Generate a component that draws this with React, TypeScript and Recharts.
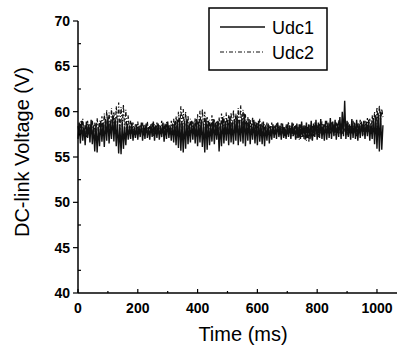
import { LineChart, Line, XAxis, YAxis, Label } from 'recharts';

// sample times (ms), 4 ms apart
const time = [
  0, 4, 8, 12, 16, 20, 24, 28, 32, 36, 40, 44, 48, 52, 56, 60,
  64, 68, 72, 76, 80, 84, 88, 92, 96, 100, 104, 108, 112, 116, 120, 124,
  128, 132, 136, 140, 144, 148, 152, 156, 160, 164, 168, 172, 176, 180, 184, 188,
  192, 196, 200, 204, 208, 212, 216, 220, 224, 228, 232, 236, 240, 244, 248, 252,
  256, 260, 264, 268, 272, 276, 280, 284, 288, 292, 296, 300, 304, 308, 312, 316,
  320, 324, 328, 332, 336, 340, 344, 348, 352, 356, 360, 364, 368, 372, 376, 380,
  384, 388, 392, 396, 400, 404, 408, 412, 416, 420, 424, 428, 432, 436, 440, 444,
  448, 452, 456, 460, 464, 468, 472, 476, 480, 484, 488, 492, 496, 500, 504, 508,
  512, 516, 520, 524, 528, 532, 536, 540, 544, 548, 552, 556, 560, 564, 568, 572,
  576, 580, 584, 588, 592, 596, 600, 604, 608, 612, 616, 620, 624, 628, 632, 636,
  640, 644, 648, 652, 656, 660, 664, 668, 672, 676, 680, 684, 688, 692, 696, 700,
  704, 708, 712, 716, 720, 724, 728, 732, 736, 740, 744, 748, 752, 756, 760, 764,
  768, 772, 776, 780, 784, 788, 792, 796, 800, 804, 808, 812, 816, 820, 824, 828,
  832, 836, 840, 844, 848, 852, 856, 860, 864, 868, 872, 876, 880, 884, 888, 892,
  896, 900, 904, 908, 912, 916, 920, 924, 928, 932, 936, 940, 944, 948, 952, 956,
  960, 964, 968, 972, 976, 980, 984, 988, 992, 996, 1000, 1004, 1008, 1012, 1016, 1020,
];

const udc1 = [
  57.0, 58.8, 56.5, 59.0, 56.8, 58.4, 56.3, 58.9, 57.1, 58.6, 56.6, 59.1, 56.4, 58.5, 55.6, 58.7,
  55.5, 58.3, 56.2, 59.0, 56.7, 58.8, 56.1, 59.2, 56.8, 59.4, 56.5, 58.9, 57.0, 59.6, 56.7, 59.3,
  56.2, 59.0, 55.4, 58.6, 55.3, 58.9, 55.9, 58.4, 56.3, 58.7, 56.9, 58.5, 57.0, 58.8, 56.8, 58.3,
  57.1, 58.6, 56.9, 58.4, 57.2, 58.8, 56.8, 58.5, 57.0, 58.7, 57.1, 58.3, 56.9, 58.6, 57.2, 58.9,
  56.8, 58.5, 57.1, 58.7, 56.9, 58.4, 57.2, 58.8, 56.7, 58.6, 57.0, 58.9, 57.1, 58.5, 56.8, 58.7,
  56.6, 58.9, 56.3, 59.1, 56.0, 59.3, 55.7, 58.8, 55.5, 59.0, 55.9, 59.2, 56.4, 58.7, 56.6, 59.0,
  56.9, 58.8, 56.5, 59.2, 56.2, 58.9, 56.6, 59.1, 56.1, 58.7, 55.5, 59.3, 55.8, 59.0, 56.3, 58.6,
  56.7, 59.2, 56.4, 58.8, 56.9, 59.0, 55.6, 58.7, 56.2, 59.4, 56.5, 58.9, 56.8, 59.1, 56.3, 59.5,
  56.6, 58.8, 56.4, 59.2, 56.8, 59.6, 56.3, 58.9, 56.7, 59.3, 56.5, 59.8, 56.2, 59.0, 56.8, 59.2,
  56.4, 58.7, 56.9, 59.1, 56.5, 58.8, 56.3, 59.0, 56.7, 58.6, 56.4, 58.9, 56.2, 58.5, 56.8, 58.7,
  56.5, 58.4, 56.9, 58.6, 57.1, 58.5, 57.0, 58.8, 57.2, 58.4, 56.9, 58.7, 57.1, 58.3, 57.0, 58.6,
  57.2, 58.5, 57.0, 58.8, 57.3, 58.4, 56.9, 58.7, 57.1, 58.6, 57.0, 58.9, 57.2, 58.5, 56.9, 58.8,
  57.1, 58.6, 57.0, 59.0, 56.8, 58.7, 57.2, 59.1, 56.9, 58.8, 57.1, 59.2, 57.0, 58.6, 56.8, 59.0,
  56.9, 58.8, 57.1, 59.3, 57.0, 58.9, 57.3, 59.1, 56.9, 58.7, 57.2, 59.4, 57.0, 60.0, 57.3, 61.2,
  57.0, 59.0, 57.2, 58.6, 56.9, 59.2, 57.1, 58.8, 57.0, 59.1, 56.8, 58.7, 57.1, 58.9, 57.3, 59.0,
  57.0, 58.9, 57.3, 59.1, 56.8, 58.7, 57.0, 59.3, 56.4, 59.6, 55.9, 59.8, 55.6, 60.0, 55.8, 58.5,
];

const udc2 = [
  58.4, 57.3, 58.9, 57.6, 59.2, 57.8, 58.6, 57.2, 59.0, 57.5, 58.7, 57.9, 59.1, 57.4, 58.8, 57.6,
  59.3, 57.8, 59.0, 57.5, 59.5, 57.9, 59.8, 57.6, 60.2, 58.0, 59.9, 57.7, 60.4, 58.1, 60.0, 57.8,
  60.6, 58.2, 61.0, 58.0, 60.5, 58.3, 60.8, 57.9, 60.2, 57.6, 59.6, 57.8, 59.0, 57.5, 58.8, 57.7,
  58.6, 57.4, 58.9, 57.6, 58.5, 57.8, 58.8, 57.3, 58.6, 57.7, 58.9, 57.5, 58.4, 57.8, 58.8, 57.3,
  58.6, 57.7, 58.9, 57.5, 58.5, 57.8, 59.0, 57.6, 58.7, 57.4, 58.9, 57.8, 58.6, 57.5, 59.0, 57.7,
  59.2, 57.9, 59.5, 57.6, 60.0, 57.8, 60.6, 58.1, 60.3, 57.9, 60.0, 57.7, 59.6, 57.5, 59.2, 57.8,
  58.9, 57.5, 59.3, 57.2, 59.7, 57.8, 60.1, 57.6, 60.3, 57.9, 60.0, 57.7, 59.4, 57.5, 59.1, 57.6,
  59.6, 57.8, 59.2, 57.4, 59.0, 57.7, 59.4, 57.5, 59.8, 57.9, 59.5, 57.4, 59.9, 57.8, 59.6, 57.5,
  59.9, 57.7, 60.2, 58.0, 59.8, 57.6, 60.4, 57.9, 60.7, 58.1, 60.2, 57.8, 59.7, 57.6, 59.4, 57.8,
  59.1, 57.5, 59.4, 57.7, 59.0, 57.4, 58.8, 57.6, 59.2, 57.5, 58.9, 57.7, 58.6, 57.4, 58.8, 57.6,
  58.5, 57.3, 58.8, 57.6, 58.4, 57.5, 58.7, 57.8, 58.5, 57.4, 58.8, 57.6, 58.3, 57.2, 58.6, 57.5,
  58.9, 57.6, 58.4, 57.3, 58.7, 57.5, 58.5, 57.0, 58.3, 56.9, 58.6, 57.2, 58.4, 57.0, 58.5, 56.8,
  58.3, 56.6, 58.6, 56.9, 58.4, 57.3, 58.8, 57.5, 58.5, 57.2, 58.7, 57.6, 58.9, 57.4, 58.6, 57.7,
  59.0, 57.5, 58.7, 57.6, 58.9, 57.8, 58.6, 57.4, 58.8, 57.7, 59.1, 57.6, 58.7, 57.5, 58.9, 57.8,
  58.6, 57.4, 58.9, 57.7, 58.5, 57.5, 59.0, 57.6, 58.7, 57.3, 58.8, 57.6, 59.1, 57.8, 58.7, 57.5,
  59.0, 57.7, 59.3, 57.8, 59.2, 57.5, 59.6, 58.0, 60.0, 58.3, 60.5, 58.6, 60.7, 58.9, 60.3, 59.4,
];

const xTicks = [0, 100, 200, 300, 400, 500, 600, 700, 800, 900, 1000];
const yTicks = [40, 42.5, 45, 47.5, 50, 52.5, 55, 57.5, 60, 62.5, 65, 67.5, 70];

const FONT = '"Liberation Sans", Arial, sans-serif';

const chartData = time.map((t, i) => ({ t, udc1: udc1[i], udc2: udc2[i] }));

const XTick = ({ x, y, payload }: any) => {
  const major = payload.value % 200 === 0;
  return (
    <g>
      <line x1={x} x2={x} y1={y} y2={y - (major ? 4 : 2)} stroke="#000" strokeWidth={1.2} />
      {major && (
        <text x={x} y={y + 15} textAnchor="middle" dominantBaseline="central"
          fontFamily={FONT} fontSize={14} fontWeight="bold" fill="#000">
          {payload.value}
        </text>
      )}
    </g>
  );
};

const YTick = ({ x, y, payload }: any) => {
  const major = payload.value % 5 === 0;
  return (
    <g>
      {major ? (
        <line x1={x - 5} x2={x} y1={y} y2={y} stroke="#000" strokeWidth={1.2} />
      ) : (
        <line x1={x} x2={x + 3} y1={y} y2={y} stroke="#000" strokeWidth={1.2} />
      )}
      {major && (
        <text x={x - 8} y={y} textAnchor="end" dominantBaseline="central"
          fontFamily={FONT} fontSize={14} fontWeight="bold" fill="#000">
          {payload.value}
        </text>
      )}
    </g>
  );
};

export default function App() {
  return (
    <div style={{ position: 'absolute', left: 0, top: 0, width: 404, height: 348, background: '#fff' }}>
      <LineChart width={404} height={348} data={chartData}
        margin={{ top: 21, right: 7, bottom: 0, left: 0 }}>
        <XAxis dataKey="t" type="number" domain={[0, 1067]} ticks={xTicks} interval={0}
          tick={<XTick />} tickLine={false} tickSize={0} tickMargin={0} height={55}
          axisLine={{ stroke: '#000', strokeWidth: 1.5 }}>
          <Label content={() => (
            <text x={243} y={341} textAnchor="middle" fontFamily={FONT} fontSize={20} fill="#000">
              Time (ms)
            </text>
          )} />
        </XAxis>
        <YAxis type="number" domain={[40, 70]} ticks={yTicks} interval={0}
          tick={<YTick />} tickLine={false} tickSize={0} tickMargin={0} width={78}
          axisLine={{ stroke: '#000', strokeWidth: 1.5 }}>
          <Label content={() => (
            <text x={22} y={152} transform="rotate(-90 22 152)" textAnchor="middle"
              dominantBaseline="central" fontFamily={FONT} fontSize={20} fill="#000">
              DC-link Voltage (V)
            </text>
          )} />
        </YAxis>
        <Line type="linear" dataKey="udc2" stroke="#111" strokeWidth={1.2}
          strokeDasharray="4 2 1 2" dot={false} isAnimationActive={false} />
        <Line type="linear" dataKey="udc1" stroke="#111" strokeWidth={1.4}
          dot={false} isAnimationActive={false} />
      </LineChart>
      <svg width={404} height={348} style={{ position: 'absolute', left: 0, top: 0, pointerEvents: 'none' }}>
        <rect x={209} y={8} width={118} height={62} fill="#fff" stroke="#000" strokeWidth={1.5} />
        <line x1={220} x2={265} y1={27} y2={27} stroke="#111" strokeWidth={1.4} />
        <line x1={220} x2={265} y1={52} y2={52} stroke="#111" strokeWidth={1.2} strokeDasharray="4 2 1 2" />
        <text x={272} y={34} fontFamily={FONT} fontSize={18} fill="#000">Udc1</text>
        <text x={272} y={59} fontFamily={FONT} fontSize={18} fill="#000">Udc2</text>
      </svg>
    </div>
  );
}
